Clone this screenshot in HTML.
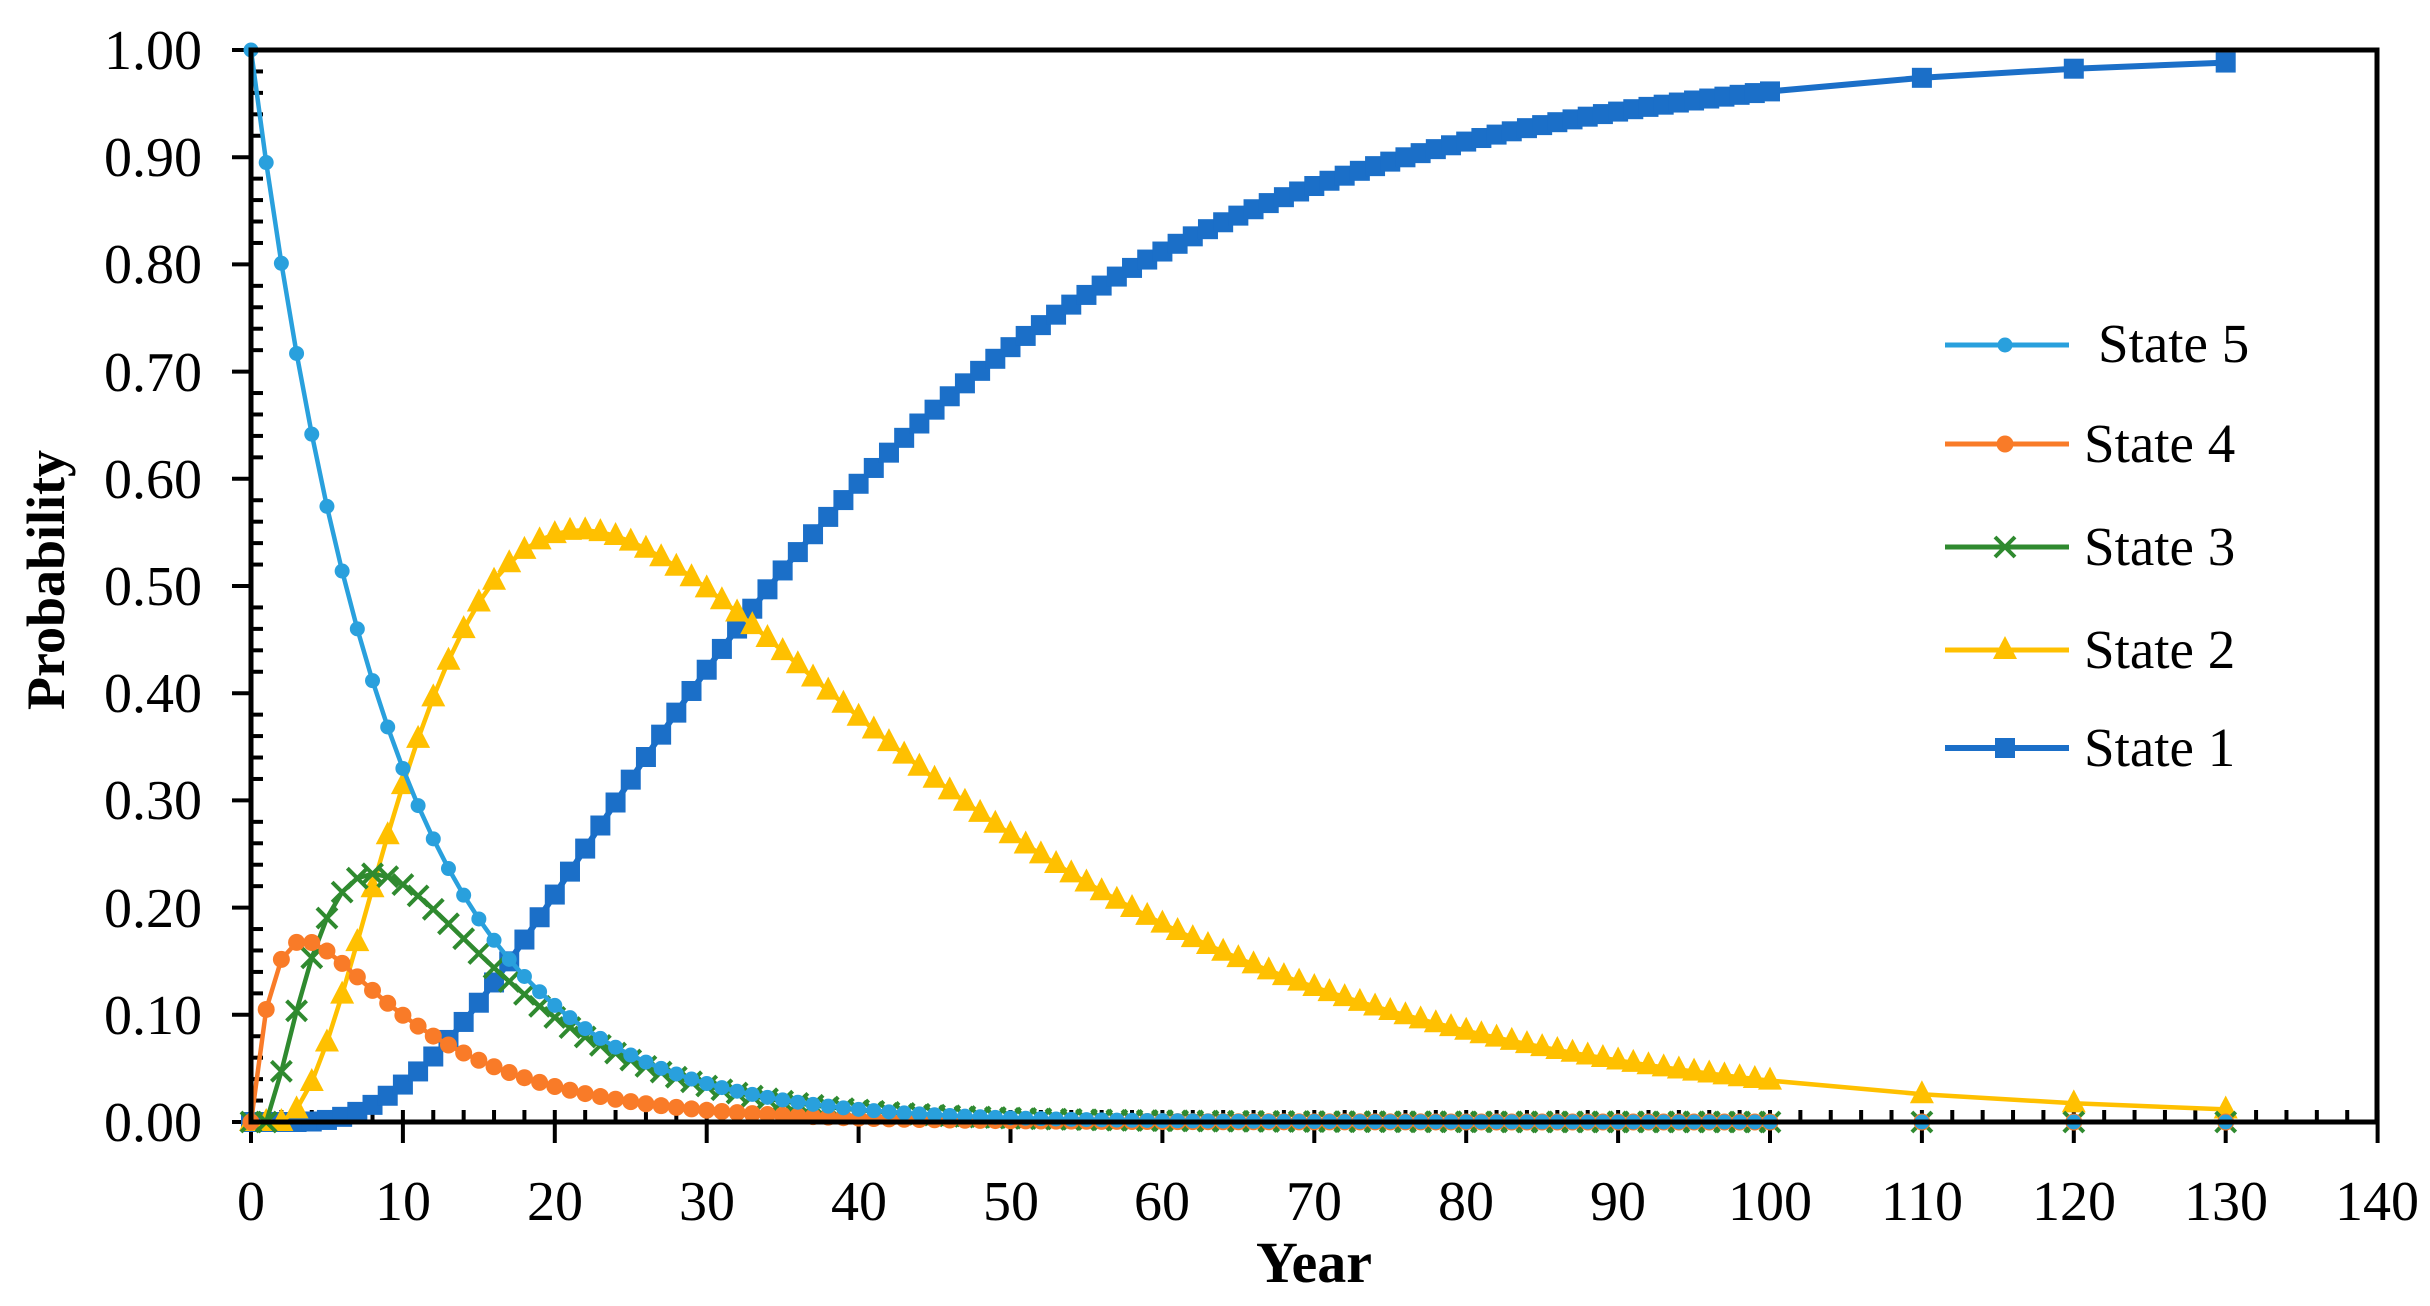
<!DOCTYPE html>
<html><head><meta charset="utf-8"><style>
html,body{margin:0;padding:0;background:#fff;}
svg{display:block;font-family:"Liberation Serif",serif;}
</style></head><body>
<svg id="s" width="2430" height="1306" viewBox="0 0 2430 1306" xmlns="http://www.w3.org/2000/svg">
<rect width="2430" height="1306" fill="#fff"/>
<g id="ticks" stroke="#000" stroke-width="4"></g>
<g id="series"></g>
<path d="M251,50 H2377 V1122 H251 Z" fill="none" stroke="#000" stroke-width="5"/>
<g font-size="56" text-anchor="end" fill="#000">
<text x="202" y="69">1.00</text>
<text x="202" y="176">0.90</text>
<text x="202" y="283">0.80</text>
<text x="202" y="391">0.70</text>
<text x="202" y="498">0.60</text>
<text x="202" y="605">0.50</text>
<text x="202" y="712">0.40</text>
<text x="202" y="819">0.30</text>
<text x="202" y="927">0.20</text>
<text x="202" y="1034">0.10</text>
<text x="202" y="1141">0.00</text>
</g>
<g font-size="56" text-anchor="middle" fill="#000">
<text x="251" y="1220">0</text>
<text x="403" y="1220">10</text>
<text x="555" y="1220">20</text>
<text x="707" y="1220">30</text>
<text x="859" y="1220">40</text>
<text x="1011" y="1220">50</text>
<text x="1162" y="1220">60</text>
<text x="1314" y="1220">70</text>
<text x="1466" y="1220">80</text>
<text x="1618" y="1220">90</text>
<text x="1770" y="1220">100</text>
<text x="1922" y="1220">110</text>
<text x="2074" y="1220">120</text>
<text x="2226" y="1220">130</text>
<text x="2377" y="1220">140</text>
</g>
<text x="1314" y="1282" font-size="58" font-weight="bold" text-anchor="middle">Year</text>
<text transform="translate(64,580) rotate(-90)" font-size="54" font-weight="bold" text-anchor="middle">Probability</text>
<g font-size="55" fill="#000">
<text x="2098" y="362">State 5</text>
<text x="2084" y="462">State 4</text>
<text x="2084" y="565">State 3</text>
<text x="2084" y="668">State 2</text>
<text x="2084" y="766">State 1</text>
</g>
<g id="legend"></g>
</svg>
<script>
var NS="http://www.w3.org/2000/svg";
function el(p,t,a){var e=document.createElementNS(NS,t);for(var k in a)e.setAttribute(k,a[k]);p.appendChild(e);return e;}
var X=function(t){return 251+t*15.19;}, Y=function(v){return 1122-v*1072;};
var tk=document.getElementById('ticks');
for(var i=0;i<=50;i++){var y=Y(i*0.02);
 if(i%5==0) el(tk,'line',{x1:232,x2:251,y1:y,y2:y}); else el(tk,'line',{x1:251,x2:263,y1:y,y2:y});}
for(var t=0;t<=140;t+=2){var x=X(t);
 if(t%10==0) el(tk,'line',{x1:x,x2:x,y1:1110,y2:1143}); else el(tk,'line',{x1:x,x2:x,y1:1110,y2:1122});}
var s5=0.895,s4=0.55,s3=0.75,s2=0.961;
var p=[1,0,0,0,0];var data=[];
for(var t=0;t<=130;t++){data.push(p.slice());
 var n=[p[0]*s5,p[0]*(1-s5)+p[1]*s4,p[1]*(1-s4)+p[2]*s3,p[2]*(1-s3)+p[3]*s2,0];
 n[4]=1-n[0]-n[1]-n[2]-n[3];p=n;}
var ts=[];for(var t=0;t<=100;t++)ts.push(t);ts.push(110,120,130);
var cols=['#29A0DD','#F97B28','#2F8A2F','#FFC000','#1B6FC8'];
var sg=document.getElementById('series');
function marker(g,k,x,y){
 var c=cols[k];
 if(k==0) el(g,'circle',{cx:x,cy:y,r:7.5,fill:c});
 else if(k==1) el(g,'circle',{cx:x,cy:y,r:8.5,fill:c});
 else if(k==2) el(g,'path',{d:'M'+(x-10)+','+(y-10)+'L'+(x+10)+','+(y+10)+'M'+(x+10)+','+(y-10)+'L'+(x-10)+','+(y+10),stroke:c,'stroke-width':4,fill:'none'});
 else if(k==3) el(g,'path',{d:'M'+x+','+(y-14)+'L'+(x+12)+','+(y+9)+'L'+(x-12)+','+(y+9)+'Z',fill:c});
 else el(g,'rect',{x:x-10,y:y-10,width:20,height:20,fill:c});
}
var order=[4,3,2,1,0];
order.forEach(function(k){
 var g=el(sg,'g',{});
 var d=ts.map(function(t,i){return (i?'L':'M')+X(t).toFixed(1)+','+Y(data[t][k]).toFixed(1);}).join('');
 el(g,'path',{d:d,fill:'none',stroke:cols[k],'stroke-width':k==4?6:4.5});
 ts.forEach(function(t){marker(g,k,X(t),Y(data[t][k]));});
});
var lg=document.getElementById('legend');
var ly=[345,444,547,650,748];
for(var k=0;k<5;k++){el(lg,'line',{x1:1945,x2:2069,y1:ly[k],y2:ly[k],stroke:cols[k],'stroke-width':k==4?6:5});marker(lg,k,2005,ly[k]);}
</script>
</body></html>
